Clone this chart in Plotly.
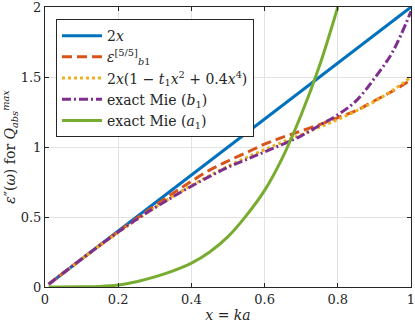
import plotly.graph_objects as go

# values
x_lin = [0.01, 1.0]
y_lin = [0.02, 2.0]

x_grid = [0.01, 0.05, 0.1, 0.15, 0.2, 0.25, 0.3, 0.35, 0.4, 0.45, 0.5,
          0.55, 0.6, 0.65, 0.7, 0.75, 0.8, 0.85, 0.9, 0.95, 1.0]

y_pade = [0.02, 0.1, 0.2, 0.298, 0.395, 0.489, 0.58, 0.67, 0.755, 0.835, 0.9,
          0.96, 1.02, 1.07, 1.115, 1.16, 1.21, 1.26, 1.33, 1.4, 1.48]

y_poly = [0.02, 0.1, 0.199, 0.296, 0.39, 0.48, 0.567, 0.648, 0.725, 0.796, 0.8625,
          0.924, 0.981, 1.036, 1.0885, 1.1415, 1.196, 1.257, 1.325, 1.405, 1.5]

y_mie_b1 = [0.02, 0.1, 0.2, 0.298, 0.393, 0.483, 0.566, 0.645, 0.72, 0.79, 0.855,
            0.91, 0.965, 1.02, 1.08, 1.155, 1.23, 1.33, 1.49, 1.68, 1.97]

x_a1 = [0.01, 0.1, 0.15, 0.2, 0.25, 0.3, 0.35, 0.4, 0.45, 0.5, 0.55,
        0.6, 0.65, 0.7, 0.75, 0.8]
y_a1 = [0.0, 0.001, 0.004, 0.014, 0.038, 0.072, 0.115, 0.17, 0.25, 0.36, 0.51,
        0.69, 0.93, 1.23, 1.58, 2.0]

x_ticks = [0, 0.2, 0.4, 0.6, 0.8, 1]
x_tick_text = ["0", "0.2", "0.4", "0.6", "0.8", "1"]
y_ticks = [0, 0.5, 1, 1.5, 2]
y_tick_text = ["0", "0.5", "1", "1.5", "2"]

FONT = "DejaVu Serif"
LW = 3

fig = go.Figure()
fig.add_trace(go.Scatter(x=x_lin, y=y_lin, mode="lines", name="2<i>x</i>",
                         line=dict(color="#0072BD", width=LW)))
fig.add_trace(go.Scatter(x=x_grid, y=y_pade, mode="lines",
                         name="<i>ε</i><sup>[5/5]</sup><sub><i>b</i>1</sub>",
                         line=dict(color="#D95319", width=LW, dash="10px,5px",
                                   shape="spline")))
fig.add_trace(go.Scatter(x=x_grid, y=y_poly, mode="lines",
                         name="2<i>x</i>(1 − <i>t</i><sub>1</sub><i>x</i><sup>2</sup> + 0.4<i>x</i><sup>4</sup>)",
                         line=dict(color="#EDB120", width=LW, dash="3px,3px",
                                   shape="spline")))
fig.add_trace(go.Scatter(x=x_grid, y=y_mie_b1, mode="lines",
                         name="exact Mie (<i>b</i><sub>1</sub>)",
                         line=dict(color="#7E2F8E", width=LW, dash="9px,3px,2px,3px",
                                   shape="spline")))
fig.add_trace(go.Scatter(x=x_a1, y=y_a1, mode="lines",
                         name="exact Mie (<i>a</i><sub>1</sub>)",
                         line=dict(color="#77AC30", width=LW, shape="spline")))

axis_common = dict(
    showline=True, linecolor="#262626", linewidth=1, mirror="ticks",
    ticks="inside", ticklen=4, tickcolor="#262626",
    showgrid=True, gridcolor="#e3e3e3", gridwidth=1, zeroline=False,
    tickfont=dict(family=FONT, size=13, color="#262626"),
    ticklabeloverflow="allow", automargin=False,
)

fig.update_layout(
    width=415, height=326,
    margin=dict(l=45, r=4, t=7, b=39),
    paper_bgcolor="white", plot_bgcolor="white",
    font=dict(family=FONT, size=13, color="#262626"),
    xaxis=dict(range=[0, 1], tickvals=x_ticks, ticktext=x_tick_text,
               title=dict(text="<i>x</i> = <i>ka</i>", standoff=4,
                          font=dict(family=FONT, size=14)),
               **axis_common),
    yaxis=dict(range=[0, 2], tickvals=y_ticks, ticktext=y_tick_text,
               title=dict(text="<i>ε</i>″(<i>ω</i>) for <i>Q</i><sub><i>abs</i></sub><sup><i>max</i></sup>",
                          standoff=6, font=dict(family=FONT, size=14)),
               **axis_common),
    legend=dict(x=0.03, y=0.957, xanchor="left", yanchor="top",
                bgcolor="white", bordercolor="#262626", borderwidth=1,
                font=dict(family=FONT, size=14, color="#262626"),
                itemwidth=40, tracegroupgap=0),
    showlegend=True,
)

# the page body has a default margin; remove it so the figure sits at 0,0
fig.write_html("out.html", config={"displayModeBar": False},
               post_script="document.body.style.margin='0';document.body.style.overflow='hidden';")
